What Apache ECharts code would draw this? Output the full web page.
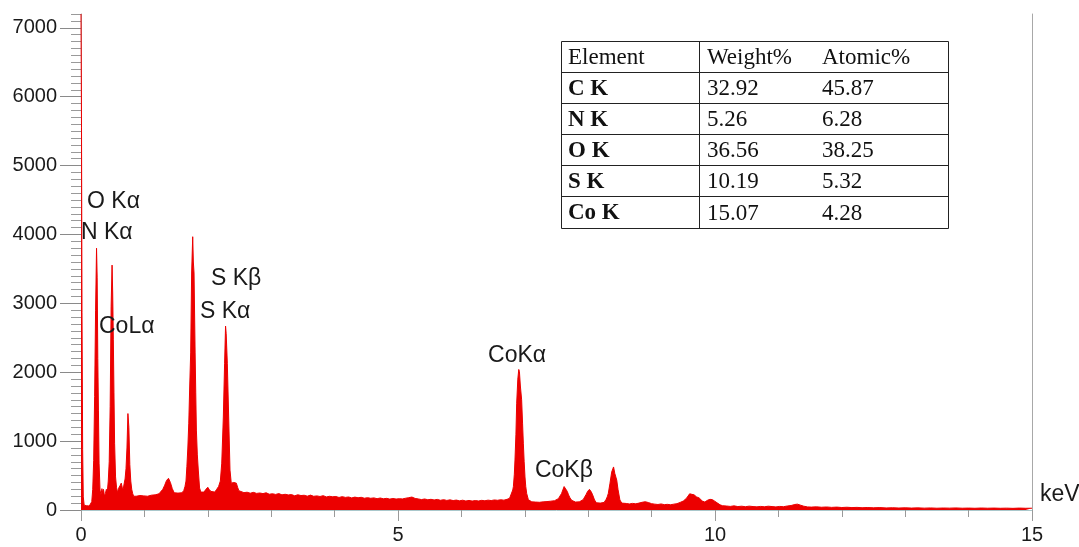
<!DOCTYPE html>
<html>
<head>
<meta charset="utf-8">
<script src="https://cdn.jsdelivr.net/npm/echarts@6/dist/echarts.min.js"></script>
<style>
  html, body { margin: 0; padding: 0; background: #fff; }
  #chart { width: 1079px; height: 547px; }
</style>
</head>
<body>
<div id="chart"></div>
<script>
// EDS spectrum, [energy keV, counts]

// 0 – 0.9 keV: zero-energy spike, C/N/O K lines and Co L line
const lowEnergy = [
  [0.00, 7200], [0.008, 5550], [0.016, 2870], [0.026, 880], [0.036, 190], [0.05, 70],
  [0.07, 48], [0.09, 62], [0.11, 45], [0.13, 58], [0.15, 72], [0.17, 120], [0.185, 300],
  [0.20, 720], [0.215, 1650], [0.23, 2900], [0.245, 3800], [0.255, 3380], [0.265, 2200],
  [0.275, 1450], [0.285, 680], [0.30, 290], [0.315, 220], [0.33, 310], [0.34, 250],
  [0.355, 300], [0.37, 200], [0.385, 240], [0.40, 300], [0.415, 260], [0.43, 420],
  [0.445, 700], [0.46, 1500], [0.475, 2950], [0.49, 3555], [0.50, 3150], [0.51, 2470],
  [0.52, 1700], [0.53, 970], [0.545, 480], [0.56, 330], [0.575, 250], [0.59, 310],
  [0.605, 290], [0.62, 360], [0.635, 390], [0.65, 330], [0.665, 300], [0.68, 380],
  [0.695, 450], [0.71, 600], [0.725, 900], [0.74, 1400], [0.755, 1200], [0.77, 660],
  [0.785, 420], [0.80, 300], [0.815, 240], [0.83, 200], [0.85, 185], [0.87, 200]
];

// 0.9 – 2.5 keV: sulfur lines
const sulfurRegion = [
  [0.90, 195], [0.93, 210], [0.96, 190], [0.99, 205], [1.02, 215], [1.05, 200], [1.08, 225],
  [1.11, 215], [1.14, 230], [1.17, 220], [1.20, 240], [1.23, 235], [1.26, 260], [1.29, 300],
  [1.32, 360], [1.35, 430], [1.38, 460], [1.41, 400], [1.44, 310], [1.47, 250], [1.50, 235],
  [1.53, 245], [1.56, 230], [1.59, 250], [1.62, 280], [1.64, 340], [1.656, 420], [1.67, 630],
  [1.685, 900], [1.70, 1260], [1.715, 1800], [1.73, 2280], [1.745, 3440], [1.762, 3967],
  [1.772, 3600], [1.783, 3440], [1.80, 2280], [1.81, 1700], [1.82, 1160], [1.835, 800],
  [1.85, 580], [1.87, 320], [1.89, 260], [1.91, 240], [1.94, 260], [1.97, 300], [2.00, 330],
  [2.02, 300], [2.05, 270], [2.08, 280], [2.11, 260], [2.14, 300], [2.17, 340], [2.198, 420],
  [2.22, 680], [2.245, 1350], [2.265, 2130], [2.28, 2670], [2.29, 2560], [2.308, 2130],
  [2.329, 1350], [2.35, 580], [2.37, 390], [2.39, 410], [2.41, 400], [2.43, 380],
  [2.45, 390], [2.47, 330], [2.49, 280]
];

// 2.5 – 6.75 keV: bremsstrahlung background
const background = [
  [2.52, 270], [2.57, 252], [2.62, 258], [2.67, 244], [2.72, 256], [2.77, 241], [2.82, 247],
  [2.87, 238], [2.92, 250], [2.97, 229], [3.02, 236], [3.07, 226], [3.12, 238], [3.17, 220],
  [3.22, 228], [3.27, 219], [3.32, 224], [3.37, 206], [3.42, 221], [3.47, 210], [3.52, 214],
  [3.57, 201], [3.62, 216], [3.67, 199], [3.72, 205], [3.77, 196], [3.82, 208], [3.87, 190],
  [3.92, 199], [3.97, 192], [4.02, 196], [4.07, 182], [4.12, 194], [4.17, 183], [4.22, 189],
  [4.27, 176], [4.32, 187], [4.37, 178], [4.42, 184], [4.47, 171], [4.52, 179], [4.57, 170],
  [4.62, 176], [4.67, 164], [4.72, 174], [4.77, 163], [4.82, 169], [4.87, 158], [4.92, 167],
  [4.97, 159], [5.02, 164], [5.07, 161], [5.12, 171], [5.17, 179], [5.22, 188], [5.27, 168],
  [5.32, 161], [5.37, 151], [5.42, 160], [5.47, 149], [5.52, 155], [5.57, 146], [5.62, 154],
  [5.67, 141], [5.72, 150], [5.77, 139], [5.82, 147], [5.87, 137], [5.92, 144], [5.97, 133],
  [6.02, 142], [6.07, 131], [6.12, 139], [6.17, 130], [6.22, 137], [6.27, 131], [6.32, 140],
  [6.37, 134], [6.42, 143], [6.47, 137], [6.52, 146], [6.57, 141], [6.62, 149], [6.67, 143],
  [6.72, 155]
];

// 6.75 – 8.6 keV: Co K alpha / K beta and neighbouring lines
const cobaltRegion = [
  [6.76, 170], [6.79, 190], [6.81, 290], [6.82, 340], [6.835, 520], [6.845, 725], [6.86, 1100],
  [6.872, 1550], [6.89, 1900], [6.905, 2040], [6.915, 2010], [6.93, 1800], [6.95, 1600],
  [6.965, 1250], [6.977, 970], [6.99, 700], [7.003, 480], [7.015, 340], [7.03, 240],
  [7.056, 150], [7.08, 125], [7.11, 118], [7.14, 130], [7.17, 115], [7.20, 122], [7.23, 112],
  [7.26, 125], [7.29, 118], [7.32, 128], [7.35, 122], [7.38, 135], [7.41, 128], [7.44, 140],
  [7.47, 135], [7.50, 150], [7.53, 165], [7.555, 190], [7.58, 240], [7.60, 290], [7.62, 340],
  [7.635, 360], [7.65, 330], [7.67, 270], [7.69, 220], [7.713, 175], [7.74, 140], [7.77, 120],
  [7.80, 115], [7.83, 110], [7.86, 118], [7.89, 125], [7.92, 150], [7.95, 175], [7.97, 230],
  [7.99, 270], [8.02, 300], [8.05, 260], [8.07, 220], [8.10, 145], [8.13, 105], [8.16, 98],
  [8.19, 100], [8.22, 95], [8.25, 110], [8.28, 150], [8.30, 190], [8.317, 240], [8.344, 390],
  [8.37, 550], [8.40, 625], [8.42, 530], [8.45, 435], [8.47, 300], [8.50, 145], [8.53, 100],
  [8.56, 92]
];

// 8.6 – 15 keV: high-energy tail
const highEnergyTail = [
  [8.60, 95], [8.65, 88], [8.70, 96], [8.75, 90], [8.80, 100], [8.85, 112], [8.90, 120],
  [8.95, 108], [9.00, 92], [9.05, 85], [9.10, 80], [9.15, 88], [9.20, 78], [9.25, 82],
  [9.30, 76], [9.35, 85], [9.40, 92], [9.45, 110], [9.50, 130], [9.55, 170], [9.60, 235],
  [9.63, 250], [9.67, 220], [9.71, 190], [9.75, 175], [9.80, 130], [9.84, 115], [9.88, 140],
  [9.92, 155], [9.96, 150], [10.00, 125], [10.04, 100], [10.08, 75], [10.12, 62], [10.18, 58],
  [10.24, 52], [10.30, 60], [10.36, 50], [10.42, 55], [10.48, 48], [10.54, 56], [10.60, 50],
  [10.66, 46], [10.72, 52], [10.78, 47], [10.84, 55], [10.90, 50], [10.96, 45], [11.02, 52],
  [11.08, 48], [11.14, 58], [11.20, 65], [11.26, 80], [11.30, 85], [11.35, 70], [11.40, 55],
  [11.46, 45], [11.52, 42], [11.60, 46], [11.68, 40], [11.76, 44], [11.84, 38], [11.92, 42],
  [12.00, 36], [12.08, 40], [12.16, 35], [12.24, 38], [12.32, 33], [12.40, 36], [12.50, 32],
  [12.60, 35], [12.70, 30], [12.80, 33], [12.90, 29], [13.00, 32], [13.10, 28], [13.20, 31],
  [13.30, 27], [13.40, 30], [13.50, 26], [13.60, 29], [13.70, 27], [13.80, 30], [13.90, 26],
  [14.00, 28], [14.10, 25], [14.20, 29], [14.30, 26], [14.40, 28], [14.50, 25], [14.60, 27],
  [14.70, 24], [14.80, 28], [14.90, 25], [15.00, 26]
];

// axis ticks
const xLabelTicks = [0, 5, 10, 15];
const yLabelTicks = [0, 1000, 2000, 3000, 4000, 5000, 6000, 7000];

// peak names
const peakNames = ['O K\u03b1', 'N K\u03b1', 'CoL\u03b1', 'S K\u03b2', 'S K\u03b1', 'CoK\u03b1', 'CoK\u03b2'];

// quantification table
const tableColumns = ['Element', 'Weight%', 'Atomic%'];
const elementLines = ['C K', 'N K', 'O K', 'S K', 'Co K'];
const weightPct = ['32.92', '5.26', '36.56', '10.19', '15.07'];
const atomicPct = ['45.87', '6.28', '38.25', '5.32', '4.28'];

// ---- layout ----
const peakNameAnchors = [
  [0.095, 4470], [0.0, 4020], [0.284, 2656], [2.05, 3353], [1.877, 2874], [6.42, 2235], [7.16, 566]
];
const SANS = '"Liberation Sans", Arial, sans-serif';
const SERIF = '"Liberation Serif", "Times New Roman", serif';
const INK = '#1a1a1a';
const RED = '#ec0000';

const spectrum = [].concat(lowEnergy, sulfurRegion, background, cobaltRegion, highEnergyTail);

// table geometry
const tLeft = 561.5, tRight = 948.5, tDivider = 699.5;
const rowEdges = [41.5, 72.5, 103.5, 134.5, 165.5, 196.5, 228.5];
const colX = [568, 707, 822];

const tableGraphics = [];
tableGraphics.push({
  type: 'rect',
  shape: { x: tLeft, y: rowEdges[0], width: tRight - tLeft, height: rowEdges[rowEdges.length - 1] - rowEdges[0] },
  style: { fill: '#fff', stroke: '#222', lineWidth: 1 }
});
for (let i = 1; i < rowEdges.length - 1; i++) {
  tableGraphics.push({
    type: 'line',
    shape: { x1: tLeft, y1: rowEdges[i], x2: tRight, y2: rowEdges[i] },
    style: { stroke: '#222', lineWidth: 1 }
  });
}
tableGraphics.push({
  type: 'line',
  shape: { x1: tDivider, y1: rowEdges[0], x2: tDivider, y2: rowEdges[rowEdges.length - 1] },
  style: { stroke: '#222', lineWidth: 1 }
});
const rows = [tableColumns].concat(elementLines.map((e, i) => [e, weightPct[i], atomicPct[i]]));
rows.forEach((row, r) => {
  const cy = (rowEdges[r] + rowEdges[r + 1]) / 2 + 1;
  row.forEach((txt, c) => {
    const bold = r > 0 && c === 0;
    tableGraphics.push({
      type: 'text',
      style: {
        text: txt, x: colX[c], y: cy,
        verticalAlign: 'middle', align: 'left',
        font: (bold ? 'bold ' : '') + '23px ' + SERIF,
        fill: '#111'
      }
    });
  });
});

const chart = echarts.init(document.getElementById('chart'), null, { renderer: 'canvas' });
chart.setOption({
  animation: false,
  backgroundColor: '#fff',
  grid: { left: 81, right: 47, top: 14, bottom: 37, containLabel: false, outerBoundsMode: 'none' },
  xAxis: {
    type: 'value', min: 0, max: 15, interval: 5,
    name: 'keV', nameLocation: 'end', nameGap: 8,
    nameTextStyle: { fontSize: 23, fontFamily: SANS, color: INK, verticalAlign: 'bottom', padding: [0, 0, 4, 0] },
    axisLine: { lineStyle: { color: '#a9c7cb', width: 1 } },
    axisTick: { length: 11, lineStyle: { color: '#9a9a9a' } },
    minorTick: { show: true, splitNumber: 5, length: 7, lineStyle: { color: '#9a9a9a' } },
    splitLine: { show: false },
    axisLabel: { customValues: xLabelTicks, formatter: v => String(v), fontSize: 20, fontFamily: SANS, color: INK, margin: 15 }
  },
  yAxis: [
    {
      type: 'value', min: 0, max: 7200, interval: 100,
      axisLine: { show: true, lineStyle: { color: '#a8a8a8' } },
      axisTick: { show: true, length: 10, lineStyle: { color: '#9a9a9a' } },
      axisLabel: { show: false },
      splitLine: { show: false }
    },
    {
      type: 'value', min: 0, max: 7200, interval: 1000, position: 'left',
      axisLine: { show: false },
      axisTick: { show: true, length: 21, customValues: yLabelTicks, lineStyle: { color: '#8a8a8a' } },
      axisLabel: { customValues: yLabelTicks, formatter: v => String(v), fontSize: 20, fontFamily: SANS, color: INK, margin: 24 },
      splitLine: { show: false }
    },
    {
      type: 'value', min: 0, max: 7200, position: 'right',
      axisLine: { show: true, lineStyle: { color: '#a8a8a8' } },
      axisTick: { show: false },
      axisLabel: { show: false },
      splitLine: { show: false }
    }
  ],
  series: [{
    type: 'line',
    data: spectrum,
    yAxisIndex: 0,
    symbol: 'none',
    sampling: null,
    lineStyle: { color: RED, width: 1 },
    areaStyle: { color: RED, opacity: 1 },
    z: 3,
    markPoint: {
      symbol: 'circle', symbolSize: 0,
      silent: true,
      label: {
        show: true, position: 'right', distance: 0,
        formatter: '{b}', fontSize: 23, fontFamily: SANS, color: INK
      },
      data: peakNames.map((n, i) => ({ name: n, coord: peakNameAnchors[i] }))
    }
  }],
  graphic: tableGraphics
});
</script>
</body>
</html>
